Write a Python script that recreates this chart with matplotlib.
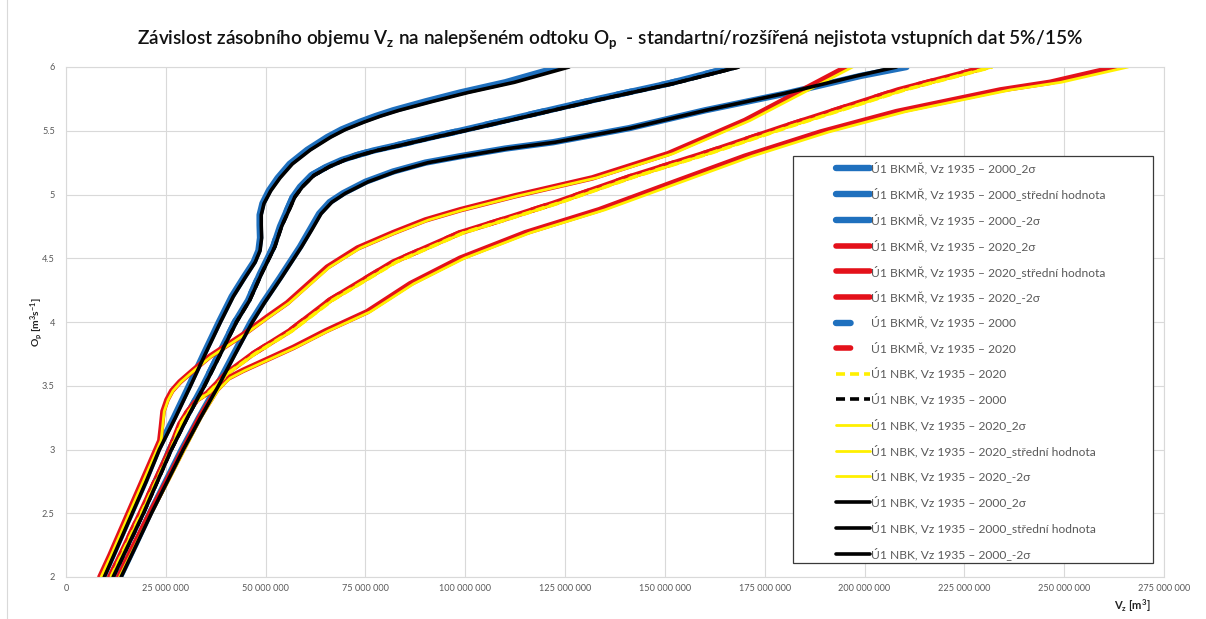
import matplotlib
matplotlib.use('Agg')
import matplotlib.pyplot as plt
from matplotlib.ticker import FuncFormatter
from matplotlib.patches import Rectangle
from matplotlib.lines import Line2D

plt.rcParams['font.family'] = ['Lato', 'DejaVu Sans']
plt.rcParams['mathtext.fontset'] = 'custom'
plt.rcParams['mathtext.rm'] = 'Lato'
plt.rcParams['mathtext.it'] = 'Lato:italic'
plt.rcParams['mathtext.bf'] = 'Lato:bold'
plt.rcParams['lines.scale_dashes'] = False

# ---------------- data (V_z in millions m3, O_p in m3/s) ----------------
title = ('Závislost zásobního objemu V$_{\\mathbf{z}}$ na nalepšeném odtoku O$_{\\mathbf{p}}$'
         '  - standartní/rozšířená nejistota vstupních dat 5%/15%')

labels = [
    'Ú1 BKMŘ, Vz 1935 – 2000_2σ',
    'Ú1 BKMŘ, Vz 1935 – 2000_střední hodnota',
    'Ú1 BKMŘ, Vz 1935 – 2000_-2σ',
    'Ú1 BKMŘ, Vz 1935 – 2020_2σ',
    'Ú1 BKMŘ, Vz 1935 – 2020_střední hodnota',
    'Ú1 BKMŘ, Vz 1935 – 2020_-2σ',
    'Ú1 BKMŘ, Vz 1935 – 2000',
    'Ú1 BKMŘ, Vz 1935 – 2020',
    'Ú1 NBK, Vz 1935 – 2020',
    'Ú1 NBK, Vz 1935 – 2000',
    'Ú1 NBK, Vz 1935 – 2020_2σ',
    'Ú1 NBK, Vz 1935 – 2020_střední hodnota',
    'Ú1 NBK, Vz 1935 – 2020_-2σ',
    'Ú1 NBK, Vz 1935 – 2000_2σ',
    'Ú1 NBK, Vz 1935 – 2000_střední hodnota',
    'Ú1 NBK, Vz 1935 – 2000_-2σ',
]

# BKMŘ 1935-2000
b2000_2s_y = [2.0, 2.25, 2.5, 2.75, 3.0, 3.25, 3.5, 3.75, 4.0, 4.2, 4.35, 4.47, 4.56, 4.66,
              4.76, 4.84, 4.93, 5.03, 5.13, 5.24, 5.35, 5.45, 5.51, 5.57, 5.615, 5.66, 5.73,
              5.80, 5.88, 6.0]
b2000_2s_x = [9.3, 12.8, 16.3, 19.8, 23.0, 27.0, 30.8, 34.5, 38.3, 41.5, 44.5, 47.0, 48.2, 48.6,
              48.5, 48.5, 49.2, 50.8, 53.0, 56.0, 60.4, 65.4, 69.0, 73.6, 77.5, 81.9, 90.0,
              98.7, 110.0, 123.5]
b2000_mean_y = [2.0, 2.25, 2.5, 2.75, 3.0, 3.25, 3.5, 3.75, 4.0, 4.17, 4.38, 4.59, 4.75, 4.88,
                4.98, 5.06, 5.15, 5.22, 5.27, 5.31, 5.345, 5.38, 5.46, 5.50, 5.60, 5.74, 5.87, 6.0]
b2000_mean_x = [11.5, 15.3, 19.0, 22.5, 26.0, 30.0, 34.3, 38.3, 42.3, 45.6, 48.6, 51.9, 53.6, 55.4,
                56.8, 58.6, 61.4, 65.4, 69.0, 73.0, 77.0, 82.0, 93.0, 98.7, 112.5, 131.8, 150.8, 167.0]
b2000_m2s_y = [2.0, 2.25, 2.5, 2.75, 3.0, 3.25, 3.5, 3.75, 4.0, 4.15, 4.35, 4.59, 4.72, 4.85,
               4.94, 5.01, 5.10, 5.18, 5.25, 5.30, 5.36, 5.41, 5.52, 5.66, 5.79, 5.93, 6.0]
b2000_m2s_x = [13.5, 17.3, 21.0, 25.0, 29.0, 33.3, 37.8, 42.0, 46.3, 49.3, 53.6, 58.6, 61.0, 63.4,
               66.0, 69.4, 75.0, 81.9, 90.0, 98.7, 110.0, 122.0, 141.0, 160.0, 180.0, 199.0, 210.5]

# BKMŘ 1935-2020
b2020_2s_y = [2.0, 2.17, 2.35, 2.53, 2.71, 2.89, 3.07, 3.18, 3.30, 3.39, 3.46, 3.53, 3.62, 3.73,
              3.90, 4.04, 4.15, 4.43, 4.58, 4.70, 4.80, 4.88, 4.99, 5.13, 5.32, 5.58, 6.0]
b2020_2s_x = [8.5, 11.0, 13.5, 16.0, 18.5, 21.0, 23.5, 23.9, 24.3, 25.3, 26.5, 28.5, 31.8, 36.0,
              44.3, 50.4, 55.4, 65.4, 73.0, 81.9, 90.0, 98.7, 112.5, 131.8, 150.8, 170.0, 195.4]
b2020_mean_y = [2.0, 2.25, 2.5, 2.75, 3.0, 3.2, 3.29, 3.39, 3.44, 3.60, 3.75, 3.93, 4.17, 4.47,
                4.70, 4.81, 4.93, 5.14, 5.33, 5.53, 5.82, 6.0]
b2020_mean_x = [11.0, 14.8, 18.6, 22.3, 26.0, 28.5, 30.3, 32.8, 35.3, 40.3, 46.8, 56.0, 66.0, 81.9,
                98.7, 110.0, 122.0, 141.3, 160.6, 179.6, 208.4, 230.5]
b2020_m2s_y = [2.0, 2.25, 2.5, 2.75, 3.0, 3.26, 3.47, 3.56, 3.62, 3.80, 3.93, 4.08, 4.30, 4.50,
               4.70, 4.88, 5.08, 5.30, 5.49, 5.65, 5.82, 5.88, 6.0]
b2020_m2s_x = [13.0, 17.0, 21.0, 25.2, 29.3, 33.6, 37.8, 40.6, 44.3, 56.9, 65.0, 75.4, 86.2, 98.7,
               115.0, 133.5, 150.8, 170.0, 189.0, 208.0, 234.0, 246.5, 263.0]

# NBK 1935-2000 (same O_p levels as the BKMŘ 2000 curves)
n2000_2s_x = [9.6, 13.1, 16.6, 20.1, 23.4, 27.4, 31.2, 34.9, 38.7, 41.9, 44.9, 47.4, 48.6, 49.0,
              48.9, 48.9, 49.6, 51.3, 53.6, 56.7, 61.2, 66.3, 70.0, 74.8, 78.8, 83.4, 91.8,
              100.7, 112.3, 126.0]
n2000_mean_x = [11.8, 15.6, 19.4, 22.9, 26.4, 30.4, 34.7, 38.7, 42.7, 46.0, 49.0, 52.3, 54.0, 55.9,
                57.3, 59.2, 62.1, 66.1, 69.8, 73.8, 77.9, 82.9, 94.0, 99.8, 113.7, 133.0, 152.1, 168.5]
n2000_m2s_x = [13.8, 17.6, 21.4, 25.4, 29.4, 33.7, 38.2, 42.4, 46.7, 49.7, 54.0, 59.0, 61.5, 63.9,
               66.6, 70.0, 75.7, 82.6, 90.7, 99.4, 110.6, 122.5, 141.3, 160.2, 179.6, 198.0, 208.0]

# NBK 1935-2020 (same O_p levels as the BKMŘ 2020 curves)
n2020_2s_x = [8.8, 11.3, 13.8, 16.3, 18.8, 21.3, 23.8, 24.2, 24.6, 25.6, 26.8, 28.8, 32.1, 36.4,
              44.7, 50.9, 55.9, 66.0, 73.7, 82.6, 90.8, 99.5, 113.4, 132.8, 152.0, 171.3, 197.0]
n2020_mean_x = [11.3, 15.1, 18.9, 22.6, 26.3, 28.8, 30.6, 33.1, 35.6, 40.7, 47.3, 56.6, 66.7, 82.7,
                99.6, 111.0, 123.1, 142.5, 162.0, 181.0, 210.0, 232.0]
n2020_m2s_x = [13.4, 17.4, 21.4, 25.6, 29.7, 34.0, 38.2, 41.1, 44.8, 57.5, 65.7, 76.2, 87.1, 99.8,
               116.3, 135.0, 152.5, 171.8, 191.0, 210.3, 236.5, 249.2, 266.0]

x_ticks = [0, 25, 50, 75, 100, 125, 150, 175, 200, 225, 250, 275]
y_ticks = [2, 2.5, 3, 3.5, 4, 4.5, 5, 5.5, 6]

# ---------------- figure ----------------
W, H = 1206, 619
fig = plt.figure(figsize=(W / 100, H / 100), dpi=100)
fig.patch.set_facecolor('white')


def fx(px):
    return px / W


def fy(py):
    return 1 - py / H


# chart-area border (visible on the left edge of the screenshot)
fig.add_artist(Line2D([fx(7), fx(7)], [0, 1], transform=fig.transFigure, color='#d9d9d9', lw=0.8))

ax = fig.add_axes([fx(66), fy(577), (1164 - 66) / W, (577 - 67) / H])

BLUE = '#1F70BE'
RED = '#E4111A'
YEL = '#FFF000'
BLK = '#000000'

blue_s = dict(color=BLUE, lw=4.6, solid_capstyle='round')
red_s = dict(color=RED, lw=4.0, solid_capstyle='round')
yel_s = dict(color=YEL, lw=2.0, solid_capstyle='round')
blk_s = dict(color=BLK, lw=2.6, solid_capstyle='round')
blue_d = dict(color=BLUE, lw=4.6, dashes=(10.5, 22), dash_capstyle='round')
red_d = dict(color=RED, lw=4.0, dashes=(10.5, 22), dash_capstyle='round')
yel_d = dict(color=YEL, lw=2.6, dashes=(6.5, 3.6))
blk_d = dict(color=BLK, lw=2.6, dashes=(6.5, 3.6))

series = [
    (b2000_2s_x, b2000_2s_y, blue_s),
    (b2000_mean_x, b2000_mean_y, blue_s),
    (b2000_m2s_x, b2000_m2s_y, blue_s),
    (b2020_2s_x, b2020_2s_y, red_s),
    (b2020_mean_x, b2020_mean_y, red_s),
    (b2020_m2s_x, b2020_m2s_y, red_s),
    (b2000_mean_x, b2000_mean_y, blue_d),
    (b2020_mean_x, b2020_mean_y, red_d),
    (n2020_mean_x, b2020_mean_y, yel_d),
    (n2000_mean_x, b2000_mean_y, blk_d),
    (n2020_2s_x, b2020_2s_y, yel_s),
    (n2020_mean_x, b2020_mean_y, yel_s),
    (n2020_m2s_x, b2020_m2s_y, yel_s),
    (n2000_2s_x, b2000_2s_y, blk_s),
    (n2000_mean_x, b2000_mean_y, blk_s),
    (n2000_m2s_x, b2000_m2s_y, blk_s),
]
for lab, (xs, ys, st) in zip(labels, series):
    ax.plot(xs, ys, label=lab, solid_joinstyle='round', **st)

ax.set_xlim(0, 275)
ax.set_ylim(2, 6)
ax.set_xticks(x_ticks)
ax.set_yticks(y_ticks)
ax.xaxis.set_major_formatter(FuncFormatter(lambda v, p: '{:,}'.format(int(round(v * 1e6))).replace(',', ' ')))
ax.yaxis.set_major_formatter(FuncFormatter(lambda v, p: '{:g}'.format(v)))
ax.tick_params(length=0, labelsize=6.6, labelcolor='#595959')
ax.tick_params(axis='y', pad=8)
ax.tick_params(axis='x', pad=5)
ax.grid(True, color='#d9d9d9', lw=0.8)
ax.set_axisbelow(True)
for s in ax.spines.values():
    s.set_color('#d9d9d9')
    s.set_linewidth(0.8)

# ---------------- texts ----------------
fig.canvas.draw()
r = fig.canvas.get_renderer()

t = fig.text(fx(610), fy(40), title, ha='center', va='center', fontsize=14, color='#111111',
             fontweight='semibold')
w = t.get_window_extent(r).width
t.set_fontsize(14 * 946 / w)

fig.text(fx(37), fy(322), 'O$_{\\mathbf{p}}$ [m$^{\\mathbf{3}}$s$^{\\mathbf{-1}}$]', rotation=90,
         ha='center', va='center', fontsize=7.5, fontweight='bold', color='#222222')
fig.text(fx(1132), fy(606), 'V$_{\\mathbf{z}}$ [m$^{\\mathbf{3}}$]', ha='center', va='center',
         fontsize=8, fontweight='bold', color='#222222')

# ---------------- legend ----------------
probe = fig.text(0, 0, labels[11], fontsize=10)
pw = probe.get_window_extent(r).width
probe.remove()
lfs = 10 * 225 / pw
lfs_px = lfs * 100 / 72

box = Rectangle((fx(793), fy(563)), (1153 - 793) / W, (563 - 156) / H, transform=fig.transFigure,
                facecolor='white', edgecolor='#3a3a3a', lw=0.9, zorder=4.8, clip_on=False)
ax.add_patch(box)


def make_legend(ls, top):
    return ax.legend(loc='upper left', bbox_to_anchor=(fx(836), fy(top)), bbox_transform=fig.transFigure,
                     frameon=False, fontsize=lfs, labelspacing=ls, handlelength=34 / lfs_px,
                     handletextpad=0.05, borderpad=0, borderaxespad=0, labelcolor='#595959')


ls0 = 1.0
leg = make_legend(ls0, 160)
fig.canvas.draw()
hh = leg.get_window_extent(r).height
row_h = (hh - 15 * ls0 * lfs_px) / 16
ls = (25.7 - row_h) / lfs_px
leg.remove()
leg = make_legend(ls, 168 - row_h / 2)
leg.set_zorder(5)

fig.savefig('out.png', dpi=100, facecolor='white')
